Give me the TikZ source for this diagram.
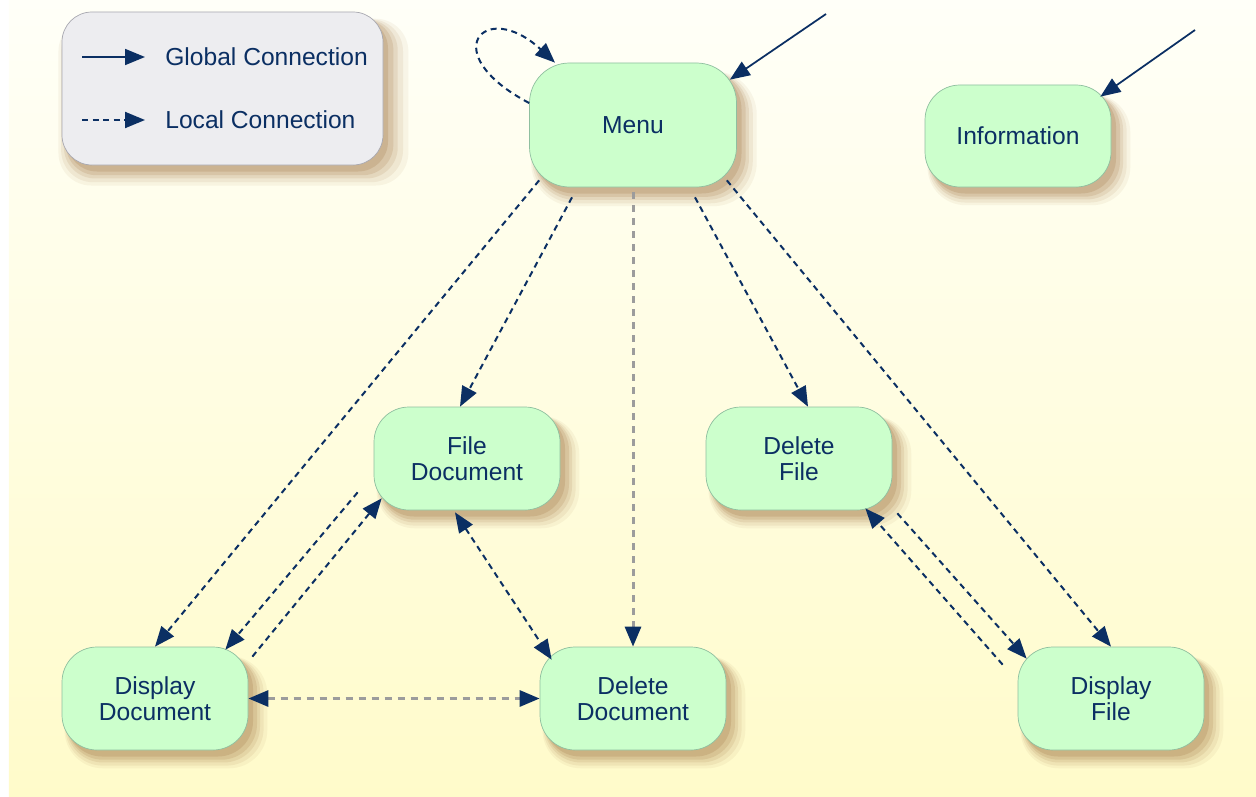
\documentclass[tikz,border=0pt]{standalone}
\usepackage{fontspec}
\setmainfont{Liberation Sans}
\usepackage{xcolor}
\usepackage{tikz}
\usetikzlibrary{calc}
\usetikzlibrary{arrows.meta}
\usetikzlibrary{shadows}

\definecolor{navy}{HTML}{0B2F63}
\definecolor{nodefill}{HTML}{CCFFCC}
\definecolor{nodeedge}{HTML}{8FBF9F}
\definecolor{legendfill}{HTML}{EDEDF0}
\definecolor{legendedge}{HTML}{A8A8B0}
\definecolor{shadowtan}{HTML}{A88050}
\definecolor{bgtop}{HTML}{FFFFF8}
\definecolor{bgbottom}{HTML}{FFFBCA}
\definecolor{graydash}{HTML}{9C9C9C}

\tikzset{
  tanshadow/.style={
    drop shadow={shadow xshift=0.2cm, shadow yshift=-0.25cm, shadow scale=1.09, opacity=0.08, fill=shadowtan},
    drop shadow={shadow xshift=0.18cm, shadow yshift=-0.23cm, shadow scale=1.065, opacity=0.11, fill=shadowtan},
    drop shadow={shadow xshift=0.16cm, shadow yshift=-0.2cm, shadow scale=1.04, opacity=0.15, fill=shadowtan},
    drop shadow={shadow xshift=0.14cm, shadow yshift=-0.17cm, shadow scale=1.02, opacity=0.2, fill=shadowtan},
    drop shadow={shadow xshift=0.1cm, shadow yshift=-0.13cm, opacity=0.25, fill=shadowtan}},
  state/.style={rectangle, rounded corners=0.7cm, draw=nodeedge, fill=nodefill, text=navy,
    minimum width=3.72cm, minimum height=2.06cm, align=center, inner sep=0pt,
    font=\fontsize{14}{14.5}\selectfont, tanshadow},
  legendbox/.style={rectangle, rounded corners=0.6cm, draw=legendedge, fill=legendfill,
    minimum width=6.42cm, minimum height=3.06cm, tanshadow},
  legendtext/.style={anchor=west, inner sep=0pt, text=navy, font=\fontsize{14}{14.5}\selectfont},
  tip/.style={-{Triangle[length=0.4cm, width=0.32cm, color=navy]}},
  both/.style={{Triangle[length=0.4cm, width=0.32cm, color=navy]}-{Triangle[length=0.4cm, width=0.32cm, color=navy]}},
  global/.style={tip, draw=navy, line width=0.035cm},
  local/.style={tip, draw=navy, line width=0.04cm, dash pattern=on 0.12cm off 0.09cm},
  localgray/.style={tip, draw=graydash, line width=0.06cm, dash pattern=on 0.14cm off 0.12cm}
}

\begin{document}
\begin{tikzpicture}
\useasboundingbox (0, 0) rectangle (25.12, 15.92);
\shade [top color=bgtop, bottom color=bgbottom] (0.18, 0) rectangle (25.12, 15.92);

\node [legendbox] (LEG) at (4.45, 14.15) {};
\node [legendtext] (GC) at (3.3, 14.78) {Global Connection};
\node [legendtext] (LC) at (3.3, 13.52) {Local Connection};

\node [state, minimum width=4.14cm, minimum height=2.48cm, rounded corners=0.8cm] (MENU) at (12.66, 13.42) {Menu};
\node [state, minimum height=2.04cm] (INFO) at (20.36, 13.2) {Information};
\node [state] (FD) at (9.34, 6.75) {File\\Document};
\node [state] (DLF) at (15.98, 6.75) {Delete\\File};
\node [state] (DPD) at (3.1, 1.95) {Display\\Document};
\node [state] (DLD) at (12.66, 1.95) {Delete\\Document};
\node [state] (DPF) at (22.22, 1.95) {Display\\File};

\coordinate (MIN) at (16.52, 15.64);
\coordinate (IIN) at (23.9, 15.32);

\draw [global] ([xshift=-1.66cm]GC.west) to ([xshift=-0.4cm]GC.west);
\draw [local] ([xshift=-1.66cm]LC.west) to ([xshift=-0.4cm]LC.west);

\draw [global] (MIN) to ([xshift=-0.14cm, yshift=-0.34cm]MENU.north east);
\draw [global] (IIN) to ([xshift=-0.22cm, yshift=-0.24cm]INFO.north east);
\draw [local] ([yshift=0.44cm]MENU.west) .. controls +(-1.9, 1.0) and +(-1.4, 1.3) .. ([xshift=-1.56cm]MENU.north);
\draw [local] ([xshift=0.2cm, yshift=0.14cm]MENU.south west) to (DPD.north);
\draw [local] ([xshift=-1.22cm, yshift=-0.2cm]MENU.south) to ([xshift=-0.14cm]FD.north);
\draw [localgray] ([yshift=-0.1cm]MENU.south) to (DLD.north);
\draw [local] ([xshift=1.24cm, yshift=-0.2cm]MENU.south) to ([xshift=0.18cm]DLF.north);
\draw [local] ([xshift=-0.2cm, yshift=0.14cm]MENU.south east) to (DPF.north);
\draw [local] ([xshift=-0.32cm, yshift=0.36cm]FD.south west) to ([xshift=-0.46cm, yshift=-0.06cm]DPD.north east);
\draw [local] ([xshift=0.08cm, yshift=-0.2cm]DPD.north east) to ([xshift=0.16cm, yshift=0.24cm]FD.south west);
\draw [local, both] ([xshift=-0.24cm, yshift=-0.04cm]FD.south) to ([xshift=0.24cm, yshift=-0.26cm]DLD.north west);
\draw [localgray, both] (DPD.east) to (DLD.west);
\draw [local] ([xshift=0.1cm, yshift=-0.06cm]DLF.south east) to ([xshift=0.18cm, yshift=-0.24cm]DPF.north west);
\draw [local] ([xshift=-0.3cm, yshift=-0.36cm]DPF.north west) to ([xshift=-0.54cm, yshift=0.04cm]DLF.south east);
\end{tikzpicture}
\end{document}
